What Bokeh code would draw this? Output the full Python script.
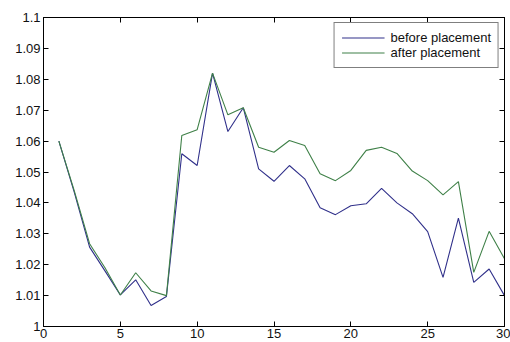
from bokeh.plotting import figure
from bokeh.models import LinearAxis, FixedTicker, CustomJSTickFormatter, Range1d, Legend, LegendItem
from bokeh.embed import file_html
from bokeh.resources import INLINE

x_vals = list(range(1, 31))
before_placement = [1.060, 1.0435, 1.0257, 1.018, 1.0102, 1.0151, 1.0068, 1.0097, 1.0559, 1.0521,
                    1.082, 1.0631, 1.0708, 1.051, 1.047, 1.0521, 1.0478, 1.0384, 1.0362, 1.0391,
                    1.0397, 1.0447, 1.0400, 1.0365, 1.0307, 1.0159, 1.0351, 1.0143, 1.0186, 1.0100]
after_placement = [1.060, 1.0440, 1.0268, 1.0190, 1.0102, 1.0174, 1.0115, 1.0100, 1.0618, 1.0637,
                   1.082, 1.0685, 1.0708, 1.058, 1.0564, 1.0602, 1.0586, 1.0494, 1.0472, 1.0505,
                   1.0570, 1.0580, 1.0560, 1.0503, 1.0472, 1.0426, 1.0469, 1.0175, 1.0308, 1.0219]
x_ticks = [0, 5, 10, 15, 20, 25, 30]
y_ticks = [1.0, 1.01, 1.02, 1.03, 1.04, 1.05, 1.06, 1.07, 1.08, 1.09, 1.1]
series_names = ["before placement", "after placement"]
series_colors = ["#30308a", "#3f8048"]

p = figure(width=510, height=342, output_backend="svg", toolbar_location=None,
           x_range=Range1d(0, 30), y_range=Range1d(1.0, 1.1),
           min_border_left=43, min_border_right=6, min_border_top=17, min_border_bottom=16)
p.background_fill_color = "white"
p.border_fill_color = "white"
p.outline_line_color = "black"
p.outline_line_width = 1
p.xgrid.visible = False
p.ygrid.visible = False

fmt = CustomJSTickFormatter(code="return tick.toFixed(2).replace(/0+$/, '').replace(/\\.$/, '');")
blank = CustomJSTickFormatter(code="return '';")

def style(ax, labels=True):
    ax.axis_line_color = "black"
    ax.major_tick_line_color = "black"
    ax.major_tick_in = 5
    ax.major_tick_out = 0
    ax.minor_tick_line_color = None
    ax.major_label_text_font = "Liberation Sans"
    ax.major_label_text_color = "#111111"
    ax.major_label_text_font_size = "13px"
    if labels:
        ax.major_label_standoff = 3
    else:
        ax.formatter = blank
        ax.major_label_standoff = 0

p.xaxis.ticker = FixedTicker(ticks=x_ticks)
p.yaxis.ticker = FixedTicker(ticks=y_ticks)
p.yaxis.formatter = fmt
style(p.xaxis[0])
style(p.yaxis[0])
p.xaxis.major_label_standoff = 2

top_ax = LinearAxis(ticker=FixedTicker(ticks=x_ticks))
right_ax = LinearAxis(ticker=FixedTicker(ticks=y_ticks))
style(top_ax, labels=False)
style(right_ax, labels=False)
p.add_layout(top_ax, "above")
p.add_layout(right_ax, "right")

r1 = p.line(x_vals, before_placement, line_color=series_colors[0], line_width=1.1)
r2 = p.line(x_vals, after_placement, line_color=series_colors[1], line_width=1.1)

legend = Legend(items=[LegendItem(label=series_names[0], renderers=[r1]),
                       LegendItem(label=series_names[1], renderers=[r2])],
                location="top_right", margin=5, padding=7, spacing=0,
                glyph_width=43, glyph_height=13, label_height=13, label_standoff=6,
                label_text_font="Liberation Sans", label_text_font_size="13px",
                label_text_color="#111111",
                border_line_color="black", border_line_width=1,
                background_fill_color="white", background_fill_alpha=1.0)
p.add_layout(legend, "center")

open("out.html", "w").write(file_html(p, INLINE))
